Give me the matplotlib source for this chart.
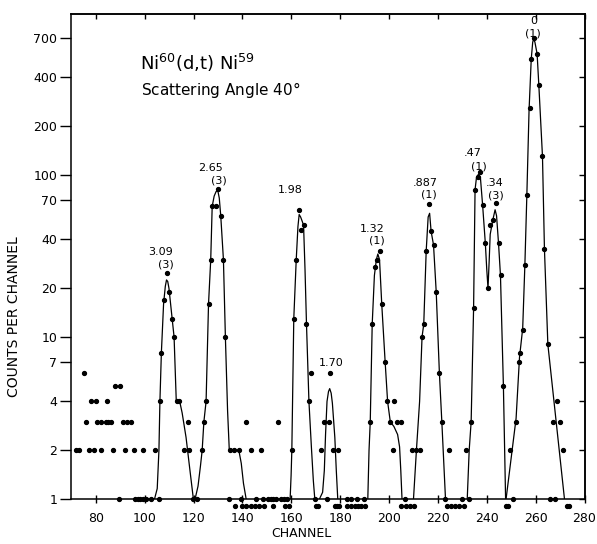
import numpy as np
import matplotlib
matplotlib.use("Agg")
import matplotlib.pyplot as plt
from matplotlib.ticker import FixedLocator, NullLocator, FixedFormatter

# measured points (channel, counts); count 0 is drawn just below the axis
dot_channel = [71.8, 73.1, 75.3, 75.8, 77.2, 78.0, 79.2, 80.0, 80.3, 81.9, 82.2, 84.0, 84.5,
               85.1, 86.1, 86.9, 88.0, 89.4, 90.0, 90.9, 92.1, 92.7, 94.2, 95.4, 96.2, 97.2,
               98.2, 99.2, 99.2, 100.5, 102.4, 104.3, 105.9,
               106.3, 106.8, 107.8, 109.0, 110.1, 111.2, 112.0, 113.1, 114.2, 116.0, 117.6,
               118.0, 119.7, 121.2,
               123.5, 124.2, 125.1, 126.1, 127.0, 127.6, 129.0, 129.9, 131.1, 132.2, 133.0,
               134.4, 135.0, 136.7, 138.5, 139.5,
               136.8, 140.0, 141.6, 143.3, 145.0, 146.8, 149.0, 152.4, 157.2, 159.2,
               141.4, 154.4, 143.4, 147.4,
               145.5, 148.2, 150.5, 151.5, 152.3, 153.6, 155.7, 156.9, 158.3,
               160.3, 161.0, 162.0, 163.0, 164.0, 165.0, 166.2, 167.2, 168.1, 169.6, 170.2, 171.0,
               172.2, 173.3, 174.4, 175.4, 176.0, 176.9, 179.2,
               177.8, 178.7, 179.7, 182.6, 184.3, 186.0, 187.3, 188.7, 190.0,
               182.6, 184.6, 186.7, 189.7,
               192.3, 193.1, 194.2, 195.0, 196.1, 197.0, 198.4, 199.2, 200.5, 201.5, 202.2,
               203.3, 204.7, 206.6, 205.0, 207.0, 208.6, 210.2,
               209.4, 211.1, 212.6, 213.3, 214.2, 215.2, 216.3, 217.2, 218.2, 219.3, 220.6,
               221.5, 223.0, 224.6, 223.6, 225.3, 227.0, 228.8, 230.5, 229.8, 232.9, 231.6,
               233.6, 234.6, 235.2, 236.5, 237.2, 238.3, 239.4, 240.5, 241.4, 242.5, 243.6,
               244.8, 245.7, 246.8, 247.8, 248.5, 250.8,
               249.6, 251.8, 253.0, 253.7, 254.7, 255.6, 256.4, 257.5, 258.2, 259.2, 260.6,
               261.3, 262.8, 263.6, 265.0, 265.7, 267.3, 268.0, 268.7, 270.0, 271.4, 272.9, 273.7]
dot_count = [2, 2, 6, 3, 2, 4, 2, 4, 3, 2, 3, 3, 4,
             3, 3, 2, 5, 1, 5, 3, 2, 3, 3, 2, 1, 1,
             1, 1, 2, 1, 1, 2, 1,
             4, 8, 17, 25, 19, 13, 10, 4, 4, 2, 3,
             2, 1, 1,
             2, 3, 4, 16, 30, 64, 64, 82, 56, 30, 10,
             1, 2, 2, 2, 1,
             0, 0, 0, 0, 0, 0, 0, 0, 0, 0,
             3, 3, 2, 2,
             1, 1, 1, 1, 1, 1, 1, 1, 1,
             2, 13, 30, 61, 46, 49, 12, 4, 6, 1, 0, 0,
             2, 3, 1, 3, 6, 2, 2,
             0, 0, 0, 0, 0, 0, 0, 0, 0,
             1, 1, 1, 1,
             3, 12, 27, 30, 34, 16, 7, 4, 3, 2, 4,
             3, 3, 1, 0, 0, 0, 0,
             2, 2, 2, 10, 12, 34, 66, 45, 37, 19, 6,
             3, 1, 2, 0, 0, 0, 0, 0, 1, 1, 2,
             3, 15, 81, 97, 104, 65, 38, 20, 49, 53, 67,
             38, 24, 5, 0, 0, 1,
             2, 3, 7, 8, 11, 28, 75, 260, 520, 700, 560,
             360, 130, 35, 9, 1, 3, 1, 4, 3, 2, 0, 0]

# hand drawn fit lines, one per group of peaks
fit_a_ch = [104.0, 105.1, 105.8, 106.2, 106.8, 107.7, 108.4, 108.9, 109.4, 109.9, 111.2, 112.0,
            112.9, 114.3, 115.3, 116.9, 118.5, 119.9, 120.6, 121.8, 122.8, 123.5, 124.2, 125.1,
            126.1, 127.0, 127.6, 128.4, 129.2, 129.9, 130.5, 131.1, 132.2, 133.0, 133.9, 134.6,
            136.5, 138.5, 139.5, 140.4, 141.5]
fit_a_cnt = [1, 1.16, 2, 4, 8, 16, 20.5, 22.5, 22, 20, 13, 10,
             4, 4, 3.4, 2.4, 1.5, 1, 1, 1.2, 1.6, 2, 3, 4,
             16, 30, 64, 74, 79, 80, 72, 56, 30, 10, 3.5, 2,
             2, 2, 1.66, 1.25, 1]
fit_b_ch = [159.5, 159.9, 160.2, 161.0, 162.0, 162.7, 163.2, 163.8, 164.4, 165.0, 165.6, 166.2,
            167.2, 168.2, 169.0, 169.6]
fit_b_cnt = [1, 1.4, 2, 13, 30, 48, 57, 55, 52, 49, 26, 12, 4, 2.1, 1.3, 1]
fit_c_ch = [171.5, 172.8, 173.5, 174.0, 174.6, 175.2, 175.7, 176.3, 176.8, 177.8, 178.4, 179.0]
fit_c_cnt = [1, 1.1, 1.5, 2.5, 4.0, 4.6, 4.8, 4.5, 3.9, 2.4, 1.5, 1]
fit_d_ch = [191.3, 191.8, 192.3, 193.1, 194.0, 194.8, 195.4, 196.1, 197.0, 198.4, 199.4, 200.5,
            202.0, 203.5, 204.3, 204.8, 205.3]
fit_d_cnt = [1, 2, 3, 12, 24, 30, 32.5, 30, 16, 7, 4, 3, 2.8, 2.5, 2.1, 1.5, 1]
fit_e_ch = [210.0, 211.2, 212.5, 213.5, 214.2, 215.2, 216.0, 216.6, 217.2, 218.2, 219.3, 220.6,
            221.6, 223.1]
fit_e_cnt = [1, 2, 4, 10, 12, 34, 55, 58, 45, 37, 19, 6, 3, 1]
fit_f_ch = [232.0, 232.8, 233.6, 234.6, 235.2, 235.8, 236.6, 237.4, 238.3, 239.4, 240.0, 240.5,
            241.0, 241.4, 242.5, 243.4, 244.0, 244.8, 245.6, 246.8, 247.7]
fit_f_cnt = [1, 2, 3, 15, 81, 97, 101, 96, 65, 38, 26, 20, 30, 43, 53, 61, 56, 38, 24, 5, 1]
fit_g_ch = [247.9, 252.0, 253.4, 254.7, 255.6, 256.4, 257.3, 258.2, 258.8, 259.2, 259.7, 260.6,
            261.3, 262.8, 263.6, 265.0, 271.8]
fit_g_cnt = [1, 3.15, 7.5, 11.3, 28, 75, 250, 520, 660, 690, 660, 560, 360, 130, 35, 9, 1]

# excitation energy / l-value labels
label_text = ["3.09", "(3)", "2.65", "(3)", "1.98", "1.70", "1.32", "(1)", ".887", "(1)",
              ".47", "(1)", ".34", "(3)", "0", "(1)"]
label_ch = [106.6, 108.7, 126.9, 130.2, 159.7, 176.4, 193.3, 195.2, 215.0, 216.4,
            234.1, 236.8, 243.2, 243.6, 259.3, 258.9]
label_cnt = [33.5, 28.2, 111, 93, 81, 6.94, 46.2, 39.2, 89.6, 75.8,
             136, 113, 89.6, 75, 890, 745]

y_ticks = [1, 2, 4, 7, 10, 20, 40, 70, 100, 200, 400, 700]
x_ticks = [80, 100, 120, 140, 160, 180, 200, 220, 240, 260, 280]

fig = plt.figure(figsize=(5.97, 5.44), dpi=100)
ax = fig.add_axes([70.5 / 597, 45 / 544, 514 / 597, 485 / 544])

fits = [(fit_a_ch, fit_a_cnt), (fit_b_ch, fit_b_cnt), (fit_c_ch, fit_c_cnt), (fit_d_ch, fit_d_cnt),
        (fit_e_ch, fit_e_cnt), (fit_f_ch, fit_f_cnt), (fit_g_ch, fit_g_cnt)]
for ch, cnt in fits:
    ax.plot(ch, cnt, color='black', linewidth=0.9)

dc = np.array(dot_count, dtype=float)
dc_plot = np.where(dc == 0, 0.9, dc)
ax.plot(dot_channel, dc_plot, 'o', color='black', markersize=2.8, clip_on=False)

for t, c, v in zip(label_text, label_ch, label_cnt):
    ax.text(c, v, t, ha='center', va='center', fontsize=8)

ax.set_yscale('log')
ax.set_xlim(69.6, 279.8)
ax.set_ylim(1, 985)

ax.yaxis.set_major_locator(FixedLocator(y_ticks))
ax.yaxis.set_major_formatter(FixedFormatter([str(v) for v in y_ticks]))
ax.yaxis.set_minor_locator(NullLocator())
ax.set_xticks(x_ticks)

ax.tick_params(axis='y', direction='out', length=8, width=1, pad=1.5, labelsize=9, right=False)
ax.tick_params(axis='x', direction='inout', length=6, width=1, pad=6, labelsize=9, top=False)

# inward ticks on right and top
ry = ax.secondary_yaxis('right')
ry.yaxis.set_major_locator(FixedLocator(y_ticks))
ry.yaxis.set_minor_locator(NullLocator())
ry.tick_params(direction='in', length=4, width=1, labelright=False)
tx = ax.secondary_xaxis('top')
tx.set_xticks(x_ticks)
tx.tick_params(direction='in', length=3.5, width=1, labeltop=False)

for sp in list(ax.spines.values()) + list(ry.spines.values()) + list(tx.spines.values()):
    sp.set_linewidth(1.1)

ax.set_ylabel('COUNTS PER CHANNEL', fontsize=10)
ax.yaxis.set_label_coords(-0.097, 0.377)
ax.set_xlabel('CHANNEL', fontsize=9)
ax.xaxis.set_label_coords(0.45, -0.058)

ax.text(0.135, 0.885, r'Ni$^{60}$(d,t) Ni$^{59}$', transform=ax.transAxes,
        fontsize=13, ha='left', va='baseline')
ax.text(0.138, 0.833, 'Scattering Angle 40$\\degree$', transform=ax.transAxes,
        fontsize=11, ha='left', va='baseline')

fig.savefig('out.png', dpi=100)
